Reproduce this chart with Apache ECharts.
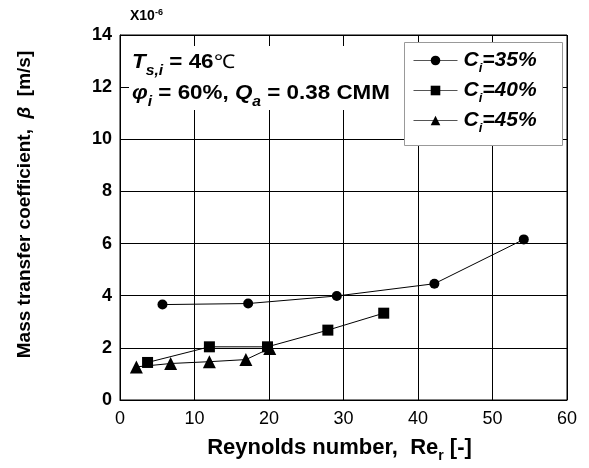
<!DOCTYPE html>
<html lang="en">

<head>
    <meta charset="UTF-8">
    <title>Mass transfer coefficient</title>
    <script src="https://cdn.jsdelivr.net/npm/echarts@6/dist/echarts.min.js"></script>
</head>
<style>
    body {
        margin: 0;
        background-color: #fff;
    }

    #chart {
        width: 589px;
        height: 468px;
    }
</style>

<body>
    <div id="chart"></div>
    <script type="text/javascript">
        // 数据 (Re_r, beta x10^-6)
        const reC35 = [5.7, 17.2, 29.1, 42.2, 54.2];
        const betaC35 = [3.66, 3.70, 3.99, 4.46, 6.16];
        const reC40 = [3.7, 12.0, 19.8, 27.9, 35.4];
        const betaC40 = [1.44, 2.04, 2.04, 2.68, 3.33];
        const reC45 = [2.2, 6.8, 12.0, 16.9, 20.1];
        const betaC45 = [1.27, 1.40, 1.47, 1.55, 1.98];
        const seriesNames = ['35%', '40%', '45%'];
        const xTicks = [0, 10, 20, 30, 40, 50, 60];
        const yTicks = [0, 2, 4, 6, 8, 10, 12, 14];

        const font = 'Liberation Sans, Arial, sans-serif';

        function pairs(xs, ys) {
            return xs.map((x, i) => [x, ys[i]]);
        }

        function makeSeries(name, data, symbol, size) {
            return {
                name: name,
                type: 'line',
                data: data,
                symbol: symbol,
                symbolSize: size,
                itemStyle: { color: '#000' },
                lineStyle: { color: '#000', width: 1 },
                z: 5
            };
        }

        window.onload = function () {
            let chart = echarts.init(document.getElementById('chart'));
            chart.setOption({
                animation: false,
                grid: {
                    left: 120,
                    right: 22,
                    top: 35,
                    bottom: 67,
                    show: true,
                    borderColor: '#000',
                    borderWidth: 1
                },
                xAxis: {
                    type: 'value',
                    min: xTicks[0],
                    max: xTicks[xTicks.length - 1],
                    interval: 10,
                    name: 'Reynolds number,  Re{s|r} [-]',
                    nameLocation: 'middle',
                    nameGap: 33,
                    nameTextStyle: {
                        fontFamily: font, fontWeight: 'bold', fontSize: 22, color: '#000',
                        padding: [0, 8, 0, 0],
                        rich: { s: { fontFamily: font, fontWeight: 'bold', fontSize: 14, padding: [16, 0, 0, 0], color: '#000' } }
                    },
                    axisLine: { lineStyle: { color: '#000' } },
                    axisTick: { show: false },
                    axisLabel: { fontFamily: font, fontSize: 18, color: '#000', margin: 10 },
                    splitLine: { lineStyle: { color: '#000', width: 1 } }
                },
                yAxis: {
                    type: 'value',
                    min: yTicks[0],
                    max: yTicks[yTicks.length - 1],
                    interval: 2,
                    name: 'Mass transfer coefficient,  {b|β}  [m/s]',
                    nameLocation: 'middle',
                    nameRotate: 90,
                    nameGap: 86,
                    nameTextStyle: {
                        fontFamily: font, fontWeight: 'bold', fontSize: 19, color: '#000',
                        padding: [0, 0, 0, 26],
                        rich: { b: { fontFamily: font, fontWeight: 'bold', fontStyle: 'italic', fontSize: 19, color: '#000' } }
                    },
                    axisLine: { show: true, lineStyle: { color: '#000' } },
                    axisTick: { show: true, inside: true, length: 9, lineStyle: { color: '#000' } },
                    axisLabel: { fontFamily: font, fontWeight: 'bold', fontSize: 18, color: '#000', margin: 8 },
                    splitLine: { lineStyle: { color: '#000', width: 1 } }
                },
                legend: {
                    left: 413,
                    top: 46,
                    orient: 'vertical',
                    itemWidth: 44,
                    itemHeight: 12,
                    itemGap: 1,
                    padding: 0,
                    data: seriesNames,
                    formatter: function (name) {
                        return '{c|C}{i|i}{c|=' + name + '}';
                    },
                    lineStyle: { color: '#555', width: 1 },
                    textStyle: {
                        padding: [0, 0, 0, 1],
                        rich: {
                            c: { fontFamily: font, fontWeight: 'bold', fontStyle: 'italic', fontSize: 21, color: '#000', lineHeight: 24 },
                            i: { fontFamily: font, fontWeight: 'bold', fontStyle: 'italic', fontSize: 13, color: '#000', padding: [16, 0, 0, 0], lineHeight: 12 }
                        }
                    },
                    z: 10
                },
                graphic: [
                    // 注释区域的白底
                    {
                        type: 'rect', z: 3, silent: true,
                        shape: { x: 129, y: 46, width: 275, height: 64 },
                        style: { fill: '#fff' }
                    },
                    // 图例边框
                    {
                        type: 'rect', z: 4, silent: true,
                        shape: { x: 404.5, y: 42.5, width: 158, height: 103 },
                        style: { fill: '#fff', stroke: '#999', lineWidth: 1 }
                    },
                    {
                        type: 'text', z: 6, x: 132, y: 47, scaleX: 1.12,
                        style: {
                            text: '{it|T}{sub|s,i}{b| = 46}{n|℃}',
                            rich: {
                                it: { fontFamily: font, fontWeight: 'bold', fontStyle: 'italic', fontSize: 20, fill: '#000' },
                                sub: { fontFamily: font, fontWeight: 'bold', fontStyle: 'italic', fontSize: 14, fill: '#000', padding: [17, 0, 0, 0] },
                                b: { fontFamily: font, fontWeight: 'bold', fontSize: 20, fill: '#000' },
                                n: { fontFamily: font, fontSize: 19, fill: '#000' }
                            }
                        }
                    },
                    {
                        type: 'text', z: 6, x: 132, y: 78, scaleX: 1.12,
                        style: {
                            text: '{it|φ}{sub|i}{b| = 60%, }{it|Q}{sub|a}{b| = 0.38 CMM}',
                            rich: {
                                it: { fontFamily: font, fontWeight: 'bold', fontStyle: 'italic', fontSize: 20, fill: '#000' },
                                sub: { fontFamily: font, fontWeight: 'bold', fontStyle: 'italic', fontSize: 14, fill: '#000', padding: [17, 0, 0, 0] },
                                b: { fontFamily: font, fontWeight: 'bold', fontSize: 20, fill: '#000' }
                            }
                        }
                    },
                    // 坐标倍数
                    {
                        type: 'text', z: 6, left: 130, top: 8,
                        style: {
                            text: '{b|X10}{sup|-6}',
                            rich: {
                                b: { fontFamily: font, fontWeight: 'bold', fontSize: 14, fill: '#000' },
                                sup: { fontFamily: font, fontWeight: 'bold', fontSize: 9, fill: '#000', padding: [0, 0, 8, 0] }
                            }
                        }
                    }
                ],
                series: [
                    makeSeries(seriesNames[0], pairs(reC35, betaC35), 'circle', 10),
                    makeSeries(seriesNames[1], pairs(reC40, betaC40), 'rect', 11),
                    makeSeries(seriesNames[2], pairs(reC45, betaC45), 'triangle', 13)
                ]
            });
        }
    </script>
</body>

</html>
